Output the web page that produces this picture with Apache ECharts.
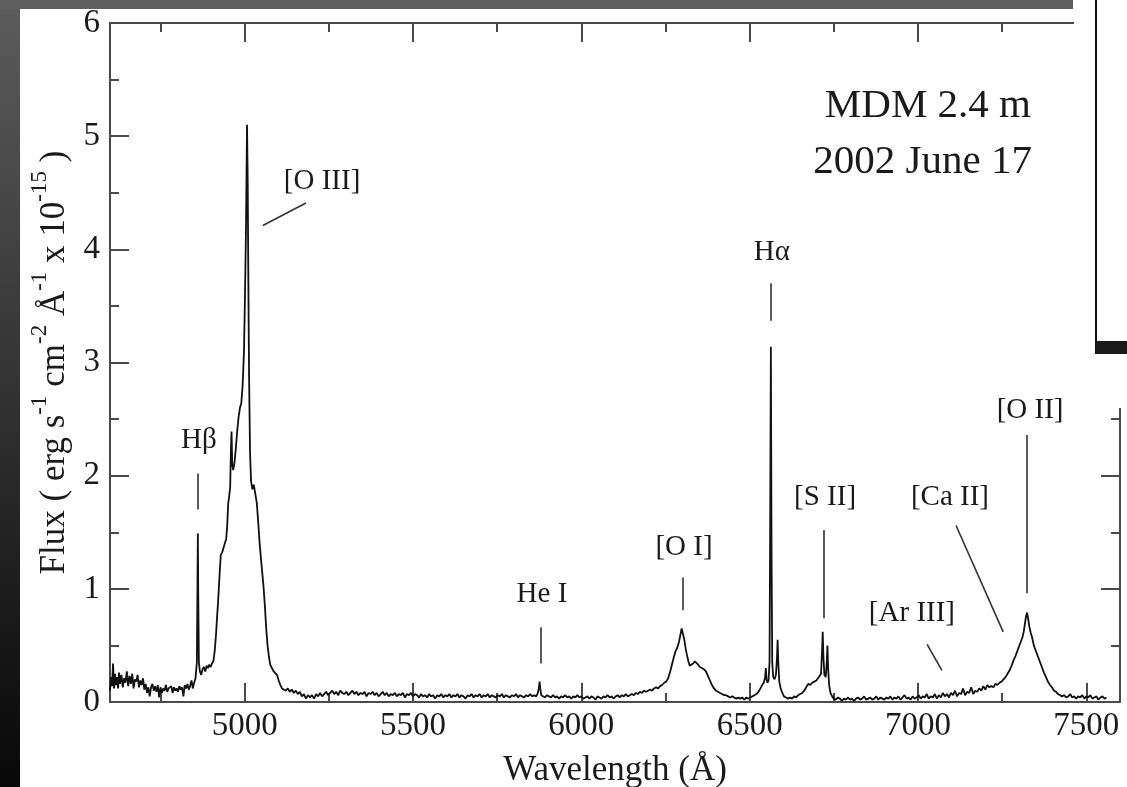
<!DOCTYPE html>
<html>
<head>
<meta charset="utf-8">
<title>MDM 2.4 m spectrum</title>
<script src="https://cdn.jsdelivr.net/npm/echarts@6.0.0/dist/echarts.min.js"></script>
<style>
	html, body { margin: 0; padding: 0; background: #fff; }
	#chart { width: 1127px; height: 787px; }
</style>
</head>
<body>
<div id="chart"></div>
<script>
var serif = "'Liberation Serif', 'Times New Roman', serif";

// wavelength (A), flux (1e-15 erg/s/cm2/A)
var spectrum = [
	[4600,.10],[4603,.22],[4606,.14],[4609,.34],[4612,.12],[4615,.25],[4618,.15],[4621,.22],[4624,.12],[4627,.26],
	[4630,.16],[4634,.24],[4638,.13],[4642,.21],[4646,.17],[4650,.27],[4654,.14],[4658,.23],[4662,.16],[4666,.25],
	[4670,.12],[4674,.20],[4678,.18],[4682,.24],[4686,.13],[4690,.19],[4694,.15],[4698,.21],[4702,.11],[4706,.16],
	[4710,.08],[4714,.13],[4718,.05],[4722,.13],[4726,.16],[4730,.10],[4734,.14],[4738,.09],[4742,.15],[4746,.04],
	[4750,.13],[4754,.08],[4758,.12],[4762,.10],[4766,.15],[4770,.09],[4774,.12],[4778,.11],[4782,.14],[4786,.08],
	[4790,.13],[4794,.10],[4798,.12],[4802,.09],[4806,.14],[4810,.11],[4814,.13],[4818,.05],[4822,.15],[4826,.12],
	[4830,.16],[4834,.11],[4838,.14],[4842,.19],[4846,.12],[4850,.17],[4854,.21],
	[4858,.35],[4860,1.1],[4861,1.49],[4862,1.0],[4864,.35],[4867,.27],
	[4871,.24],[4875,.29],[4879,.31],[4883,.27],[4887,.32],[4891,.30],[4895,.33],[4899,.31],[4903,.34],[4907,.36],
	[4911,.45],[4915,.6],[4918,.75],[4921,.88],[4925,1.1],[4929,1.3],[4933,1.32],[4937,1.36],[4941,1.40],[4945,1.44],
	[4948,1.55],[4951,1.75],[4954,1.82],[4957,1.9],[4959,2.2],[4961,2.39],[4963,2.1],[4966,2.05],[4970,2.12],[4974,2.25],
	[4978,2.4],[4982,2.52],[4986,2.6],[4990,2.64],[4994,2.8],[4998,3.1],[5001,3.6],[5004,4.2],[5007,5.1],[5009,4.6],
	[5011,3.7],[5013,2.9],[5016,2.2],[5019,1.95],[5023,1.88],[5027,1.92],[5031,1.85],[5036,1.76],[5040,1.6],[5044,1.42],
	[5048,1.28],[5052,1.15],[5056,1.02],[5060,.85],[5064,.65],[5068,.5],[5072,.4],[5076,.33],[5081,.3],[5086,.27],
	[5091,.26],[5096,.24],[5101,.19],[5106,.15],[5111,.12],
	[5116,.13],[5122,.10],[5128,.12],[5134,.09],[5140,.11],[5146,.08],[5152,.10],[5158,.07],[5164,.09],[5170,.05],
	[5176,.07],[5182,.03],[5188,.06],[5194,.04],[5200,.06],[5206,.03],[5212,.07],[5218,.05],[5224,.08],[5230,.05],
	[5236,.07],[5242,.09],[5248,.06],[5254,.08],[5260,.10],[5266,.07],[5272,.09],[5278,.06],[5284,.10],[5290,.08],
	[5296,.07],[5302,.09],[5308,.06],[5314,.08],[5320,.10],[5326,.07],[5332,.09],[5338,.06],[5344,.08],[5350,.07],
	[5356,.09],[5362,.05],[5368,.08],[5374,.07],[5380,.09],[5386,.06],[5392,.08],[5398,.05],[5404,.07],[5410,.09],
	[5416,.06],[5422,.08],[5428,.05],[5434,.07],[5440,.06],[5446,.08],[5452,.05],[5458,.07],[5464,.06],[5470,.08],
	[5476,.04],[5482,.07],[5488,.06],[5494,.08],[5500,.05],[5506,.07],[5512,.06],[5518,.04],[5524,.07],[5530,.05],
	[5536,.06],[5542,.04],[5548,.07],[5554,.05],[5560,.06],[5566,.03],[5572,.06],[5578,.05],[5584,.07],[5590,.04],
	[5596,.06],[5602,.05],[5608,.07],[5614,.04],[5620,.06],[5626,.05],[5632,.07],[5638,.04],[5644,.06],[5650,.05],
	[5656,.03],[5662,.06],[5668,.05],[5674,.07],[5680,.04],[5686,.06],[5692,.05],[5698,.07],[5704,.04],[5710,.06],
	[5716,.05],[5722,.07],[5728,.04],[5734,.06],[5740,.05],[5746,.04],[5752,.06],[5758,.05],[5764,.07],[5770,.04],
	[5776,.06],[5782,.05],[5788,.04],[5794,.06],[5800,.05],[5806,.07],[5812,.04],[5818,.06],[5824,.05],[5830,.04],
	[5836,.06],[5842,.05],[5848,.07],[5854,.05],[5860,.06],[5866,.05],[5871,.08],[5874,.13],[5876,.18],[5878,.12],
	[5881,.06],[5886,.05],
	[5892,.04],[5898,.06],[5904,.05],[5910,.04],[5916,.06],[5922,.04],[5928,.05],[5934,.03],[5940,.05],[5946,.04],
	[5952,.06],[5958,.04],[5964,.05],[5970,.03],[5976,.05],[5982,.04],[5988,.06],[5994,.04],[6000,.05],[6006,.03],
	[6012,.04],[6018,.05],[6024,.03],[6030,.05],[6036,.04],[6042,.02],[6048,.05],[6054,.04],[6060,.03],[6066,.05],
	[6072,.04],[6078,.06],[6084,.04],[6090,.05],[6096,.03],[6102,.05],[6108,.06],[6114,.04],[6120,.06],[6126,.05],
	[6132,.07],[6138,.05],[6144,.06],[6150,.07],[6156,.06],[6162,.08],[6168,.07],[6174,.09],[6180,.08],[6186,.10],
	[6192,.09],[6198,.10],[6204,.11],[6210,.10],[6216,.12],[6222,.13],[6228,.12],[6234,.14],[6240,.15],[6246,.17],
	[6252,.18],[6258,.21],[6264,.27],[6270,.34],[6275,.40],[6280,.45],[6285,.48],[6290,.53],[6294,.59],[6298,.65],
	[6302,.64],[6306,.55],[6310,.47],[6314,.41],[6318,.36],[6322,.32],[6327,.31],[6332,.34],[6337,.36],[6342,.35],
	[6347,.33],[6352,.31],[6358,.30],[6364,.29],[6370,.27],[6376,.23],[6382,.19],[6388,.15],[6394,.12],[6400,.10],
	[6406,.09],[6412,.08],[6418,.07],[6424,.06],[6430,.06],[6436,.05],[6442,.04],[6448,.05],[6454,.04],[6460,.03],
	[6466,.04],[6472,.03],[6478,.04],[6484,.02],[6490,.04],[6496,.03],[6502,.04],[6508,.05],[6514,.06],[6520,.07],
	[6526,.09],[6532,.12],[6537,.15],[6542,.17],[6546,.22],[6548,.30],[6550,.20],[6553,.17],[6556,.19],[6559,.35],
	[6561,1.6],[6563,3.14],[6565,1.3],[6567,.35],[6570,.22],[6574,.20],[6578,.24],[6581,.38],[6583,.55],[6585,.35],
	[6588,.18],[6592,.12],[6597,.08],[6602,.05],[6608,.04],[6614,.03],[6620,.04],[6626,.03],[6632,.05],[6638,.04],
	[6644,.06],[6650,.07],[6656,.08],[6662,.10],[6668,.13],[6674,.16],[6680,.15],[6686,.17],[6692,.18],[6698,.19],
	[6703,.21],[6708,.22],[6712,.25],[6715,.45],[6717,.62],[6719,.40],[6722,.24],[6726,.22],[6729,.35],[6731,.50],
	[6733,.30],[6736,.15],[6740,.08],[6745,.05],[6750,.03],
	[6756,.02],[6762,.04],[6768,.03],[6774,.01],[6780,.03],[6786,.02],[6792,.04],[6798,.02],[6804,.03],[6810,.01],
	[6816,.03],[6822,.04],[6828,.02],[6834,.03],[6840,.05],[6846,.02],[6852,.03],[6858,.04],[6864,.02],[6870,.03],
	[6876,.05],[6882,.02],[6888,.04],[6894,.03],[6900,.02],[6906,.04],[6912,.03],[6918,.05],[6924,.02],[6930,.04],
	[6936,.03],[6942,.05],[6948,.02],[6954,.04],[6960,.06],[6966,.03],[6972,.04],[6978,.02],[6984,.05],[6990,.03],
	[6996,.04],[7002,.06],[7008,.03],[7014,.05],[7020,.04],[7026,.07],[7032,.03],[7038,.05],[7044,.04],[7050,.07],
	[7056,.03],[7062,.06],[7068,.04],[7074,.08],[7080,.05],[7086,.07],[7092,.04],[7098,.08],[7104,.06],[7110,.10],
	[7116,.05],[7122,.08],[7128,.07],[7134,.12],[7140,.06],[7146,.09],[7152,.08],[7158,.13],[7164,.07],[7170,.10],
	[7176,.09],[7182,.12],[7188,.10],[7194,.14],[7200,.11],[7206,.15],[7212,.13],[7218,.14],[7224,.13],[7230,.16],
	[7236,.15],[7242,.17],[7248,.18],[7254,.20],[7260,.22],[7266,.25],[7272,.28],[7278,.32],[7284,.37],[7290,.41],
	[7295,.45],[7300,.49],[7305,.53],[7310,.57],[7314,.62],[7318,.70],[7321,.76],[7324,.79],[7327,.74],[7331,.66],
	[7335,.61],[7339,.57],[7344,.50],[7349,.46],[7354,.42],[7359,.38],[7364,.34],[7369,.30],[7374,.26],[7380,.22],
	[7386,.18],[7392,.15],[7398,.13],[7404,.10],[7410,.09],[7416,.07],[7422,.06],[7428,.05],[7434,.06],[7440,.04],
	[7446,.05],[7452,.07],[7458,.04],[7464,.05],[7470,.03],[7476,.05],[7482,.04],[7488,.06],[7494,.03],[7500,.05],
	[7506,.04],[7512,.06],[7518,.03],[7524,.04],[7530,.05],[7536,.02],[7542,.04],[7548,.05],[7554,.03],[7560,.04]
];

// line identifications
var lineNames = ["Hβ", "[O III]", "He I", "[O I]", "Hα", "[S II]", "[Ar III]", "[Ca II]", "[O II]"];
var labelWave = [4864, 5230, 5883, 6305, 6566, 6724, 6982, 7095, 7333];
var labelFlux = [2.31, 4.60, 0.95, 1.37, 3.97, 1.81, 0.78, 1.81, 2.58];
// marker segments: start and end of each
var markWaveA = [4861, 5054, 5880, 6302, 6563, 6721, 7027, 7113, 7324];
var markFluxA = [1.70, 4.21, 0.34, 0.81, 3.37, 0.74, 0.51, 1.56, 0.96];
var markWaveB = [4861, 5182, 5880, 6302, 6563, 6721, 7071, 7253, 7324];
var markFluxB = [2.02, 4.41, 0.66, 1.10, 3.70, 1.52, 0.28, 0.62, 2.36];

var xMajor = [5000, 5500, 6000, 6500, 7000, 7500];
var xMinor = [4750, 5250, 5750, 6250, 6750, 7250];

var ink = "#1a1a1a";
var axisColor = "#4a4a4a";

var labelData = [];
var markData = [];
for (var i = 0; i < lineNames.length; i++) {
	labelData.push({ name: lineNames[i], value: [labelWave[i], labelFlux[i]] });
	markData.push({ coords: [[markWaveA[i], markFluxA[i]], [markWaveB[i], markFluxB[i]]] });
}

function xAxisSide(pos, ticks, len, withLabels, withLine) {
	return {
		type: "value",
		position: pos,
		min: 4600,
		max: 7600,
		axisLine: { show: withLine, lineStyle: { color: axisColor, width: 2 } },
		axisTick: { show: true, inside: true, length: len, customValues: ticks, lineStyle: { color: axisColor, width: 2 } },
		axisLabel: withLabels ? {
			show: true, customValues: ticks, margin: 8, fontSize: 33, fontFamily: serif, color: ink,
			formatter: function(v) { return String(v); }
		} : { show: false },
		splitLine: { show: false }
	};
}

function yAxisSide(pos, withLabels) {
	return {
		type: "value",
		position: pos,
		min: 0,
		max: 6,
		interval: 1,
		axisLine: { show: true, lineStyle: { color: axisColor, width: 2 } },
		axisTick: { show: true, inside: true, length: 19, lineStyle: { color: axisColor, width: 2 } },
		minorTick: { show: true, splitNumber: 2, length: 9, lineStyle: { color: axisColor, width: 2 } },
		axisLabel: withLabels ? { show: true, margin: 10, fontSize: 33, fontFamily: serif, color: ink } : { show: false },
		splitLine: { show: false }
	};
}

var xBottom = xAxisSide("bottom", xMajor, 19, true, true);
xBottom.name = "Wavelength (Å)";
xBottom.nameLocation = "middle";
xBottom.nameGap = 51;
xBottom.nameTextStyle = { fontSize: 35, fontFamily: serif, color: ink };

var yLeft = yAxisSide("left", true);
yLeft.name = "{n|Flux ( erg s}{s|-1}{n| cm}{s|-2}{n| Å}{s|-1}{n| x 10}{s|-15}{n| )}";
yLeft.nameLocation = "middle";
yLeft.nameRotate = 90;
yLeft.nameGap = 33;
yLeft.nameTextStyle = {
	rich: {
		n: { fontSize: 35, fontFamily: serif, color: ink, lineHeight: 44, verticalAlign: "bottom" },
		s: { fontSize: 23, fontFamily: serif, color: ink, lineHeight: 6, verticalAlign: "top" }
	}
};

var chart = echarts.init(document.getElementById("chart"), null, { renderer: "canvas" });
chart.setOption({
	animation: false,
	backgroundColor: "#ffffff",
	title: [
		{ text: "MDM 2.4 m", right: 96, top: 86, padding: 0, textStyle: { fontFamily: serif, fontSize: 41, fontWeight: "normal", color: ink, lineHeight: 41 } },
		{ text: "2002 June 17", right: 95, top: 142, padding: 0, textStyle: { fontFamily: serif, fontSize: 41, fontWeight: "normal", color: ink, lineHeight: 41 } }
	],
	grid: { left: 110, right: 7, top: 23, bottom: 85, containLabel: false, outerBoundsMode: "none" },
	xAxis: [
		xBottom,
		xAxisSide("bottom", xMinor, 9, false, false),
		xAxisSide("top", xMajor, 19, false, true),
		xAxisSide("top", xMinor, 9, false, false)
	],
	yAxis: [yLeft, yAxisSide("right", false)],
	series: [
		{
			type: "line",
			data: spectrum,
			showSymbol: false,
			symbol: "none",
			lineStyle: { color: "#111", width: 1.8 },
			z: 3
		},
		{
			type: "lines",
			coordinateSystem: "cartesian2d",
			data: markData,
			lineStyle: { color: "#333", width: 1.6, opacity: 1 },
			z: 4
		},
		{
			type: "scatter",
			data: labelData,
			symbolSize: 0,
			itemStyle: { color: "transparent", opacity: 1 },
			label: {
				show: true,
				position: "inside",
				formatter: "{b}",
				fontSize: 29,
				fontFamily: serif,
				color: ink,
				opacity: 1,
				textBorderWidth: 0,
				textBorderColor: "transparent"
			},
			z: 5
		}
	],
	graphic: [
		{
			type: "rect", z: 100, silent: true,
			shape: { x: 0, y: 0, width: 20, height: 787 },
			style: { fill: new echarts.graphic.LinearGradient(0, 0, 0, 1, [{ offset: 0, color: "#5c5c5c" }, { offset: 1, color: "#080808" }]) }
		},
		{ type: "rect", z: 100, silent: true, shape: { x: 0, y: 0, width: 1073, height: 9 }, style: { fill: "#5e5e5e" } },
		{ type: "rect", z: 100, silent: true, shape: { x: 1074, y: 0, width: 53, height: 408 }, style: { fill: "#ffffff" } },
		{ type: "line", z: 101, silent: true, shape: { x1: 1096, y1: 0, x2: 1096, y2: 354 }, style: { stroke: "#111", lineWidth: 2 } },
		{ type: "rect", z: 101, silent: true, shape: { x: 1096, y: 341, width: 31, height: 13 }, style: { fill: "#1a1a1a" } }
	]
});
</script>
</body>
</html>
